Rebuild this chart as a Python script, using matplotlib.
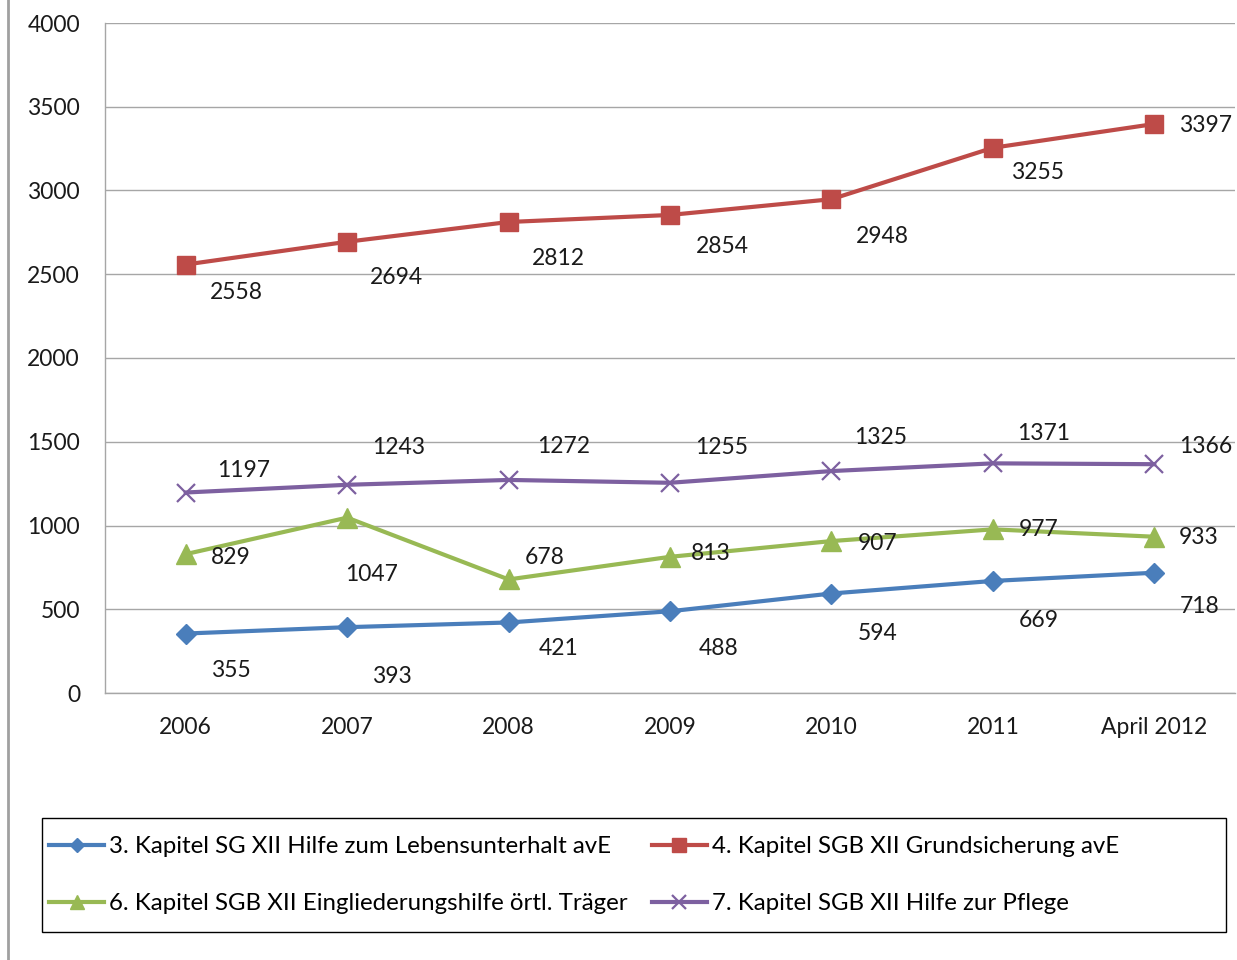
import matplotlib.pyplot as plt
from matplotlib.lines import Line2D
from matplotlib.patches import Rectangle

plt.rcParams['font.family'] = ['Lato', 'DejaVu Sans']

jahre = ['2006', '2007', '2008', '2009', '2010', '2011', 'April 2012']
kap3 = [355, 393, 421, 488, 594, 669, 718]
kap4 = [2558, 2694, 2812, 2854, 2948, 3255, 3397]
kap6 = [829, 1047, 678, 813, 907, 977, 933]
kap7 = [1197, 1243, 1272, 1255, 1325, 1371, 1366]

namen = ['3. Kapitel SG XII Hilfe zum Lebensunterhalt avE',
         '4. Kapitel SGB XII Grundsicherung avE',
         '6. Kapitel SGB XII Eingliederungshilfe örtl. Träger',
         '7. Kapitel SGB XII Hilfe zur Pflege']

# label offsets in pixels (dx, dy) relative to each point
off3 = [(45, -37), (45, -49), (50, -26), (49, -37), (46, -40), (46, -40), (45, -34)]
off4 = [(51, -28), (49, -36), (50, -37), (52, -32), (51, -37), (45, -25), (51, -1)]
off6 = [(45, -3), (24, -57), (36, 22), (41, 3), (46, -2), (46, 0), (44, -1)]
off7 = [(58, 22), (51, 37), (55, 33), (52, 35), (49, 34), (51, 30), (51, 18)]

FS = 16.5
W, H = 1237, 960
fig = plt.figure(figsize=(W / 100, H / 100), dpi=100)
ax = fig.add_axes([105 / W, 267 / H, 1130 / W, 670 / H])

x = list(range(len(jahre)))
serien = [
    (kap3, '#4A7EBB', 'D', 10, off3),
    (kap4, '#BE4B48', 's', 13, off4),
    (kap6, '#98B954', '^', 14, off6),
    (kap7, '#7D60A0', 'x', 13, off7),
]
handles = []
for (werte, farbe, marker, ms, off), name in zip(serien, namen):
    mew = 1.6 if marker == 'x' else 1
    ln, = ax.plot(x, werte, color=farbe, lw=3, marker=marker, ms=ms,
                  mec=farbe, mfc=farbe, mew=mew, label=name, zorder=3)
    handles.append(ln)
    for xi, v, (dx, dy) in zip(x, werte, off):
        ax.annotate(str(v), (xi, v), xytext=(dx, dy), textcoords='offset pixels',
                    ha='center', va='center', fontsize=FS, color='#1a1a1a')

ax.set_xlim(-0.5, len(jahre) - 0.5)
ax.set_ylim(0, 4000)
ax.set_yticks(range(0, 4001, 500))
ax.set_xticks(x)
ax.set_xticklabels(jahre)
ax.tick_params(axis='both', length=0, labelsize=FS, colors='#1a1a1a')
ax.tick_params(axis='y', pad=18)
ax.tick_params(axis='x', pad=17)
ax.grid(axis='y', color='#A6A6A6', lw=1)
ax.set_axisbelow(True)
for s in ['top', 'right']:
    ax.spines[s].set_visible(False)
for s in ['left', 'bottom']:
    ax.spines[s].set_color('#A6A6A6')
    ax.spines[s].set_linewidth(1)

fig.add_artist(Line2D([8 / W, 8 / W], [0, 1], color='#A0A0A0', lw=2))
fig.add_artist(Rectangle((42 / W, 28 / H), 1184 / W, 114 / H, transform=fig.transFigure,
                         fill=False, edgecolor='black', lw=1))

leg = fig.legend([handles[0], handles[2], handles[1], handles[3]],
                 [namen[0], namen[2], namen[1], namen[3]],
                 ncol=2, loc='center left',
                 bbox_to_anchor=(49 / W, 85 / H),
                 fontsize=17.3, handlelength=2.3, handletextpad=0.2,
                 labelspacing=1.5, borderaxespad=0, borderpad=0,
                 columnspacing=1.0, frameon=False, markerscale=0.75)

fig.savefig('out.png', dpi=100, facecolor='white')
